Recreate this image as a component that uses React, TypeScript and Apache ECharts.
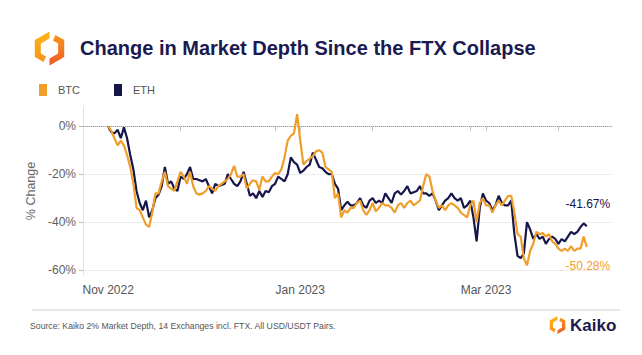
import React, { useEffect, useRef } from 'react';
import * as echarts from 'echarts';

// ---- data (percent change since Nov 1, 2022, daily) ----
const seriesStart = '2022-11-01';
const btcValues = [
  0, -2, -5, -8, -6, -8, -12, -17, -24, -34,
  -35, -38, -41, -42, -36, -28, -28, -23, -19, -25,
  -26, -27, -23, -19, -21, -24, -19, -25, -28, -28.5,
  -28, -27, -25, -26, -27, -25, -24, -23, -22, -20,
  -16.5, -21, -21, -20, -26, -24, -22.5, -23, -26.5, -21,
  -23, -23, -21, -19.5, -20, -18, -13, -6, -4, -3,
  5, -6, -16, -14.5, -13.5, -12.5, -10.5, -10, -11, -17,
  -18, -19, -30, -28, -38, -35, -36, -34, -34, -32,
  -31, -35, -37, -35, -32, -35.5, -34, -32, -33, -33,
  -34, -36, -33, -32, -34, -32, -31, -33, -32, -31,
  -25, -20, -21, -27, -31, -34, -33, -35, -33, -32,
  -33, -34, -36, -37, -38, -33, -31, -40, -32, -30,
  -33, -33, -36, -33, -31, -33, -31, -29, -29, -36,
  -45, -46, -55, -58, -52, -49, -44, -45, -44.5, -46,
  -45, -48, -49, -51, -52, -51, -52, -50, -52, -51,
  -51, -46, -50.28,
];
const ethValues = [
  0, -2.5, -3, -1.5, -5, -0.5, -5, -12, -18, -27,
  -32, -35, -31, -38, -35, -30, -28.5, -25, -17, -24,
  -23, -26, -27, -21, -22, -20, -17, -22, -22, -22.5,
  -23, -22, -25, -28, -24, -25, -24.5, -24, -20, -22,
  -24, -25, -23, -19, -24, -29, -28, -30, -27, -29.5,
  -27, -27.5, -25, -24, -21, -22, -23, -20, -13, -15,
  -16, -19.5, -18.5, -17, -16, -11, -14, -17, -17.5, -19,
  -20, -20, -24, -26, -35, -33, -31.5, -33, -33, -32,
  -30, -33, -34, -31, -30, -32, -31, -32, -28, -30,
  -32, -28, -27, -28.5, -27, -25, -28, -27.5, -27, -25,
  -28, -28, -29, -28, -31, -35, -33, -31, -30, -28,
  -30, -31, -30, -34, -33, -31, -38, -48, -34, -28,
  -31, -32, -35, -33, -29, -32, -33, -33, -31, -45,
  -54, -55, -53, -40, -43, -47, -45, -47, -46, -49,
  -47, -46, -47, -49, -47, -48, -46, -44, -45, -44,
  -42, -40.5, -41.67,
];

// ---- axes ----
const axisStart = '2022-10-24';
const axisEnd = '2023-04-10';
const labelDates = ['2022-11-01', '2023-01-01', '2023-03-01'];
const labelTexts = ['Nov 2022', 'Jan 2023', 'Mar 2023'];
const minorTickDates = ['2022-11-24', '2022-12-24', '2023-01-24', '2023-02-24', '2023-03-24'];
const yTickValues = [-60, -40, -20, 0];
const yMin = -62;
const yMax = 8;

const BTC_COLOR = '#F09E2A';
const ETH_COLOR = '#17164B';
const FONT = '"Liberation Sans", Arial, sans-serif';

function dateRange(a: string, b: string): string[] {
  const out: string[] = [];
  let t = Date.parse(a + 'T00:00:00Z');
  const end = Date.parse(b + 'T00:00:00Z');
  while (t <= end) {
    out.push(new Date(t).toISOString().slice(0, 10));
    t += 86400000;
  }
  return out;
}

function logoPolys(cx: number, cy: number, r: number, w: number) {
  const ang = [-90, -150, 150, 90, 30, -30]; // T, UL, LL, B, LR, UR
  const P = (k: number, rr: number) => [
    cx + rr * Math.cos((ang[k] * Math.PI) / 180),
    cy + rr * Math.sin((ang[k] * Math.PI) / 180),
  ];
  const lerp = (a: number[], b: number[], t: number) => [a[0] + (b[0] - a[0]) * t, a[1] + (b[1] - a[1]) * t];
  const ri = r - w;
  const left = [
    P(0, r), P(1, r), P(2, r), lerp(P(2, r), P(3, r), 0.6),
    lerp(P(2, ri), P(3, ri), 0.6), P(2, ri), P(1, ri), P(0, ri),
  ];
  const right = [
    lerp(P(0, r), P(5, r), 0.4), P(5, r), P(4, r), P(3, r),
    P(3, ri), P(4, ri), P(5, ri), lerp(P(0, ri), P(5, ri), 0.4),
  ];
  return { left, right };
}

function logoGraphics(cx: number, cy: number, r: number, w: number) {
  const { left, right } = logoPolys(cx, cy, r, w);
  return [
    {
      type: 'polygon',
      shape: { points: left },
      style: {
        fill: {
          type: 'linear', x: 0, y: 0, x2: 0, y2: 1,
          colorStops: [{ offset: 0, color: '#FDB515' }, { offset: 1, color: '#F7941D' }],
        },
      },
    },
    {
      type: 'polygon',
      shape: { points: right },
      style: {
        fill: {
          type: 'linear', x: 0, y: 0, x2: 0, y2: 1,
          colorStops: [{ offset: 0, color: '#F7941D' }, { offset: 1, color: '#EF5A24' }],
        },
      },
    },
  ];
}

export default function App() {
  const ref = useRef<HTMLDivElement>(null);

  useEffect(() => {
    if (!ref.current) return;
    const chart = echarts.init(ref.current, undefined, { renderer: 'svg' });

    const categories = dateRange(axisStart, axisEnd);
    const startIdx = categories.indexOf(seriesStart);
    const toSeries = (vals: number[]) =>
      categories.map((_, i) => {
        const k = i - startIdx;
        return k >= 0 && k < vals.length ? vals[k] : null;
      });
    const lastCat = (vals: number[]) => categories[startIdx + vals.length - 1];
    const btcLast = btcValues[btcValues.length - 1];
    const ethLast = ethValues[ethValues.length - 1];

    const option: any = {
      animation: false,
      backgroundColor: '#ffffff',
      textStyle: { fontFamily: FONT },
      grid: { left: 83, right: 30, top: 107, bottom: 80 },
      legend: {
        left: 34,
        top: 79,
        icon: 'rect',
        itemWidth: 8,
        itemHeight: 12,
        itemGap: 34,
        data: ['BTC', 'ETH'],
        textStyle: { fontSize: 11, color: '#555', fontFamily: FONT, padding: [0, 0, 0, 6] },
      },
      xAxis: {
        type: 'category',
        data: categories,
        boundaryGap: false,
        axisLine: { show: true, lineStyle: { color: '#d9d9d9', width: 1 } },
        axisTick: {
          show: true,
          length: 5,
          lineStyle: { color: '#c4c4c4' },
          interval: (_i: number, v: string) => labelDates.includes(v) || minorTickDates.includes(v),
        },
        axisLabel: {
          interval: (_i: number, v: string) => labelDates.includes(v),
          formatter: (v: string) => {
            const k = labelDates.indexOf(v);
            return k >= 0 ? labelTexts[k] : '';
          },
          color: '#555',
          fontSize: 12,
          margin: 9,
          fontFamily: FONT,
        },
        splitLine: { show: false },
      },
      yAxis: {
        type: 'value',
        min: yMin,
        max: yMax,
        name: '% Change',
        nameLocation: 'middle',
        nameGap: 35,
        nameTextStyle: { color: '#666', fontSize: 12.5, fontFamily: FONT },
        axisLine: { show: true, lineStyle: { color: '#e3e3e3', width: 1 } },
        axisTick: { show: true, length: 4, lineStyle: { color: '#bbb' }, customValues: yTickValues },
        axisLabel: {
          customValues: yTickValues,
          formatter: (v: number) => v + '%',
          color: '#5f5f5f',
          fontSize: 12,
          margin: 7,
          fontFamily: FONT,
        },
        splitLine: { show: false },
      },
      series: [
        {
          name: 'ETH',
          type: 'line',
          data: toSeries(ethValues),
          showSymbol: false,
          symbol: 'none',
          lineStyle: { color: ETH_COLOR, width: 2.2 },
          itemStyle: { color: ETH_COLOR },
          z: 3,
          markLine: {
            silent: true,
            symbol: ['none', 'none'],
            label: { show: false },
            z: 1,
            data: yTickValues.map((v) => ({
              yAxis: v,
              lineStyle:
                v === 0
                  ? { color: '#9a9a9a', type: 'dotted', width: 1 }
                  : { color: '#ececec', type: 'solid', width: 1 },
            })),
          },
          markPoint: {
            symbol: 'circle',
            symbolSize: 0,
            silent: true,
            data: [
              {
                coord: [lastCat(ethValues), ethLast],
                label: {
                  show: true,
                  formatter: ethLast.toFixed(2) + '%',
                  offset: [1, -22],
                  color: ETH_COLOR,
                  fontSize: 12,
                  fontFamily: FONT,
                },
              },
            ],
          },
        },
        {
          name: 'BTC',
          type: 'line',
          data: toSeries(btcValues),
          showSymbol: false,
          symbol: 'none',
          lineStyle: { color: BTC_COLOR, width: 2.2 },
          itemStyle: { color: BTC_COLOR },
          z: 4,
          markPoint: {
            symbol: 'circle',
            symbolSize: 0,
            silent: true,
            data: [
              {
                coord: [lastCat(btcValues), btcLast],
                label: {
                  show: true,
                  formatter: btcLast.toFixed(2) + '%',
                  offset: [1, 19],
                  color: BTC_COLOR,
                  fontSize: 12,
                  fontFamily: FONT,
                },
              },
            ],
          },
        },
      ],
      graphic: [
        ...logoGraphics(49.5, 48.5, 17, 7),
        {
          type: 'text',
          x: 80,
          y: 48,
          style: {
            text: 'Change in Market Depth Since the FTX Collapse',
            fontSize: 20,
            fontWeight: 'bold',
            fontFamily: FONT,
            fill: '#1B1A50',
            verticalAlign: 'middle',
            align: 'left',
          },
        },
        {
          type: 'line',
          shape: { x1: 32, y1: 310, x2: 620, y2: 310 },
          style: { stroke: '#d0d0d0', lineWidth: 1 },
        },
        {
          type: 'text',
          x: 30,
          y: 326,
          style: {
            text: 'Source: Kaiko 2% Market Depth, 14 Exchanges incl. FTX. All USD/USDT Pairs.',
            fontSize: 8.7,
            fontFamily: FONT,
            fill: '#555',
            verticalAlign: 'middle',
            align: 'left',
          },
        },
        ...logoGraphics(557.5, 325, 9, 3.8),
        {
          type: 'text',
          x: 570,
          y: 325,
          style: {
            text: 'Kaiko',
            fontSize: 17,
            fontWeight: 'bold',
            fontFamily: FONT,
            fill: '#1B1A50',
            verticalAlign: 'middle',
            align: 'left',
          },
        },
      ],
    };

    chart.setOption(option);
    return () => chart.dispose();
  }, []);

  return (
    <div
      ref={ref}
      style={{ position: 'fixed', left: 0, top: 0, width: 642, height: 355, background: '#fff' }}
    />
  );
}
